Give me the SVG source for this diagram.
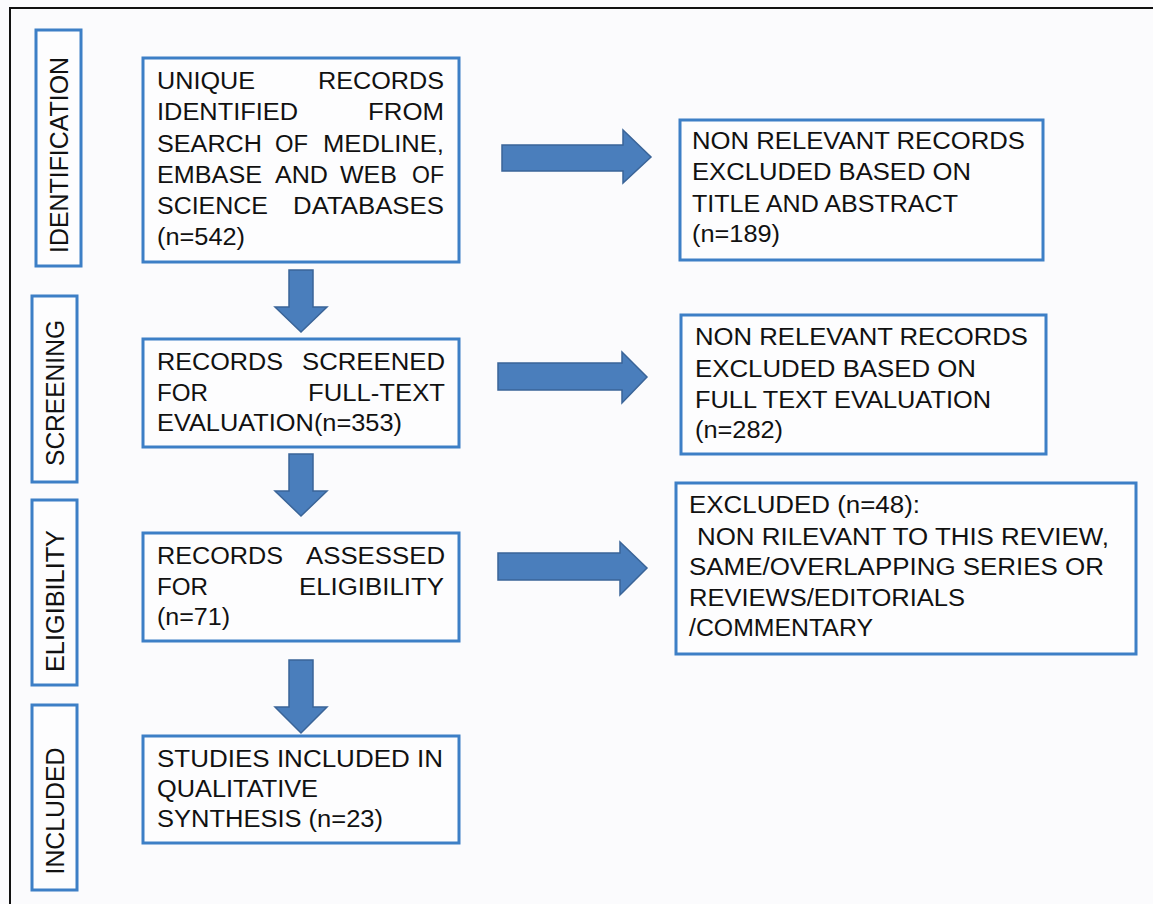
<svg xmlns="http://www.w3.org/2000/svg" width="1153" height="904" viewBox="0 0 1153 904">
<style>
.bg{fill:#fbfbfd}
.frame{fill:none;stroke:#111;stroke-width:2}
.box{fill:#fdfdfe;stroke:#3d7fc6;stroke-width:3}
.t{font-family:"Liberation Sans",Arial,sans-serif;font-size:23px;fill:#111}
.r{font-family:"Liberation Sans",Arial,sans-serif;font-size:23px;fill:#111}
.s{font-family:"Liberation Sans",Arial,sans-serif;font-size:25px;fill:#111;text-anchor:middle}
.arr{fill:#4a7ebc;stroke:#3a6498;stroke-width:1.5;stroke-linejoin:miter}
</style>
<rect class="bg" x="0" y="0" width="1153" height="904"/>
<rect class="frame" x="10" y="8" width="1170" height="930"/>

<g id="stage-identification">
<rect class="box" x="36" y="30" width="45" height="236"/>
<text class="s" transform="translate(68,155) rotate(-90)" textLength="196" lengthAdjust="spacingAndGlyphs">IDENTIFICATION</text>
</g>
<g id="stage-screening">
<rect class="box" x="32" y="296" width="45" height="186"/>
<text class="s" transform="translate(64,393) rotate(-90)" textLength="146" lengthAdjust="spacingAndGlyphs">SCREENING</text>
</g>
<g id="stage-eligibility">
<rect class="box" x="32" y="500" width="45" height="185"/>
<text class="s" transform="translate(64,601) rotate(-90)" textLength="142" lengthAdjust="spacingAndGlyphs">ELIGIBILITY</text>
</g>
<g id="stage-included">
<rect class="box" x="32" y="705" width="45" height="185"/>
<text class="s" transform="translate(64,811) rotate(-90)" textLength="127" lengthAdjust="spacingAndGlyphs">INCLUDED</text>
</g>

<g id="node-unique-records">
<rect class="box" x="143" y="58" width="316" height="204"/>
<text class="t" x="157" y="89" textLength="98" lengthAdjust="spacingAndGlyphs">UNIQUE</text>
<text class="t" x="318" y="89" textLength="126" lengthAdjust="spacingAndGlyphs">RECORDS</text>
<text class="t" x="157" y="120" textLength="141" lengthAdjust="spacingAndGlyphs">IDENTIFIED</text>
<text class="t" x="368" y="120" textLength="76" lengthAdjust="spacingAndGlyphs">FROM</text>
<text class="t" x="157" y="152" textLength="105" lengthAdjust="spacingAndGlyphs">SEARCH</text>
<text class="t" x="275" y="152" textLength="33" lengthAdjust="spacingAndGlyphs">OF</text>
<text class="t" x="323" y="152" textLength="121" lengthAdjust="spacingAndGlyphs">MEDLINE,</text>
<text class="t" x="157" y="183" textLength="105" lengthAdjust="spacingAndGlyphs">EMBASE</text>
<text class="t" x="275" y="183" textLength="53" lengthAdjust="spacingAndGlyphs">AND</text>
<text class="t" x="340" y="183" textLength="57" lengthAdjust="spacingAndGlyphs">WEB</text>
<text class="t" x="412" y="183" textLength="32" lengthAdjust="spacingAndGlyphs">OF</text>
<text class="t" x="157" y="214" textLength="111" lengthAdjust="spacingAndGlyphs">SCIENCE</text>
<text class="t" x="293" y="214" textLength="151" lengthAdjust="spacingAndGlyphs">DATABASES</text>
<text class="t" x="157" y="245" textLength="88" lengthAdjust="spacingAndGlyphs">(n=542)</text>
</g>

<g id="node-screened">
<rect class="box" x="143" y="339" width="316" height="108"/>
<text class="t" x="157" y="370" textLength="126" lengthAdjust="spacingAndGlyphs">RECORDS</text>
<text class="t" x="302" y="370" textLength="143" lengthAdjust="spacingAndGlyphs">SCREENED</text>
<text class="t" x="157" y="401" textLength="51" lengthAdjust="spacingAndGlyphs">FOR</text>
<text class="t" x="308" y="401" textLength="137" lengthAdjust="spacingAndGlyphs">FULL-TEXT</text>
<text class="t" x="157" y="431" textLength="245" lengthAdjust="spacingAndGlyphs">EVALUATION(n=353)</text>
</g>

<g id="node-assessed">
<rect class="box" x="143" y="533" width="316" height="108"/>
<text class="t" x="157" y="564" textLength="126" lengthAdjust="spacingAndGlyphs">RECORDS</text>
<text class="t" x="306" y="564" textLength="139" lengthAdjust="spacingAndGlyphs">ASSESSED</text>
<text class="t" x="157" y="595" textLength="51" lengthAdjust="spacingAndGlyphs">FOR</text>
<text class="t" x="299" y="595" textLength="145" lengthAdjust="spacingAndGlyphs">ELIGIBILITY</text>
<text class="t" x="157" y="625" textLength="73" lengthAdjust="spacingAndGlyphs">(n=71)</text>
</g>

<g id="node-included">
<rect class="box" x="143" y="736" width="316" height="107"/>
<text class="t" x="157" y="767" textLength="286" lengthAdjust="spacingAndGlyphs">STUDIES INCLUDED IN</text>
<text class="t" x="157" y="797" textLength="161" lengthAdjust="spacingAndGlyphs">QUALITATIVE</text>
<text class="t" x="157" y="827" textLength="226" lengthAdjust="spacingAndGlyphs">SYNTHESIS (n=23)</text>
</g>

<g id="node-excluded-title">
<rect class="box" x="680" y="120" width="363" height="140"/>
<text class="r" x="692" y="149" textLength="333" lengthAdjust="spacingAndGlyphs">NON RELEVANT RECORDS</text>
<text class="r" x="692" y="180" textLength="279" lengthAdjust="spacingAndGlyphs">EXCLUDED BASED ON</text>
<text class="r" x="692" y="212" textLength="266" lengthAdjust="spacingAndGlyphs">TITLE AND ABSTRACT</text>
<text class="r" x="692" y="242" textLength="88" lengthAdjust="spacingAndGlyphs">(n=189)</text>
</g>

<g id="node-excluded-fulltext">
<rect class="box" x="681" y="315" width="365" height="139"/>
<text class="r" x="695" y="345" textLength="333" lengthAdjust="spacingAndGlyphs">NON RELEVANT RECORDS</text>
<text class="r" x="695" y="377" textLength="281" lengthAdjust="spacingAndGlyphs">EXCLUDED BASED ON</text>
<text class="r" x="695" y="408" textLength="296" lengthAdjust="spacingAndGlyphs">FULL TEXT EVALUATION</text>
<text class="r" x="695" y="438" textLength="88" lengthAdjust="spacingAndGlyphs">(n=282)</text>
</g>

<g id="node-excluded-eligibility">
<rect class="box" x="676" y="483" width="460" height="171"/>
<text class="r" x="689" y="513" textLength="231" lengthAdjust="spacingAndGlyphs">EXCLUDED (n=48):</text>
<text class="r" x="697" y="545" textLength="412" lengthAdjust="spacingAndGlyphs">NON RILEVANT TO THIS REVIEW,</text>
<text class="r" x="689" y="575" textLength="415" lengthAdjust="spacingAndGlyphs">SAME/OVERLAPPING SERIES OR</text>
<text class="r" x="689" y="606" textLength="276" lengthAdjust="spacingAndGlyphs">REVIEWS/EDITORIALS</text>
<text class="r" x="689" y="636" textLength="184" lengthAdjust="spacingAndGlyphs">/COMMENTARY</text>
</g>

<g id="connectors">
<path class="arr" d="M289,270 H313 V307 H327 L301,332 L275,307 H289 Z"/>
<path class="arr" d="M289,454 H313 V491 H327 L301,516 L275,491 H289 Z"/>
<path class="arr" d="M289,660 H313 V707 H327 L301,733 L275,707 H289 Z"/>
<path class="arr" d="M502,145 H623 V130 L651,157 L623,183 V171 H502 Z"/>
<path class="arr" d="M498,363 H622 V352 L647,377 L622,403 V390 H498 Z"/>
<path class="arr" d="M498,553 H620 V542 L647,568 L620,595 V580 H498 Z"/>
</g>
</svg>
